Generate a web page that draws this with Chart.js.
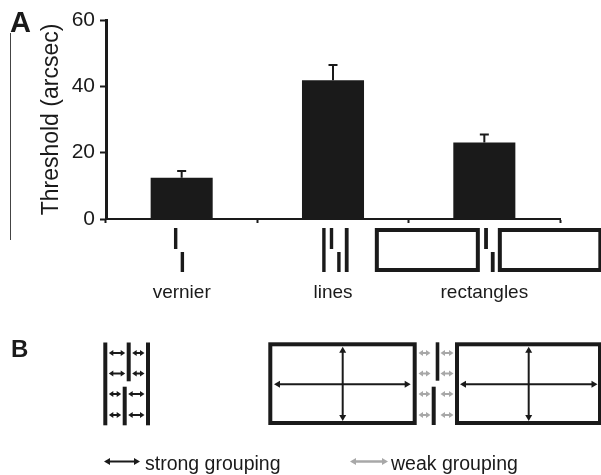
<!DOCTYPE html>
<html lang="en">
  <head>
    <meta charset="UTF-8" />
    <title>Threshold chart</title>
    <style>
      body {
        margin: 0;
        padding: 0;
        background: white;
      }
      .box {
        width: 601px;
        height: 475px;
        position: relative;
      }
    </style>
  </head>
  <body>
    <div class="box">
      <canvas id="thresholdChart"></canvas>
    </div>

    <script src="https://cdn.jsdelivr.net/npm/chart.js"></script>
    <script>
      const categories = ["vernier", "lines", "rectangles"];
      const thresholds = [12.4, 41.8, 23.1];
      const errors = [2.1, 4.6, 2.4];
      const yTicks = [0, 20, 40, 60];

      const ink = "#1a1a1a";
      const grey = "#a8a8a8";
      const font = "'Liberation Sans', Arial, sans-serif";

      function arrow(ctx, x1, x2, y, color, lw, head, half) {
        ctx.strokeStyle = color;
        ctx.fillStyle = color;
        ctx.lineWidth = lw;
        ctx.beginPath();
        ctx.moveTo(x1 + head - 1, y);
        ctx.lineTo(x2 - head + 1, y);
        ctx.stroke();
        ctx.beginPath();
        ctx.moveTo(x1, y);
        ctx.lineTo(x1 + head, y - half);
        ctx.lineTo(x1 + head, y + half);
        ctx.closePath();
        ctx.fill();
        ctx.beginPath();
        ctx.moveTo(x2, y);
        ctx.lineTo(x2 - head, y - half);
        ctx.lineTo(x2 - head, y + half);
        ctx.closePath();
        ctx.fill();
      }

      function vArrow(ctx, x, y1, y2, color, lw, head, half) {
        ctx.strokeStyle = color;
        ctx.fillStyle = color;
        ctx.lineWidth = lw;
        ctx.beginPath();
        ctx.moveTo(x, y1 + head - 1);
        ctx.lineTo(x, y2 - head + 1);
        ctx.stroke();
        ctx.beginPath();
        ctx.moveTo(x, y1);
        ctx.lineTo(x - half, y1 + head);
        ctx.lineTo(x + half, y1 + head);
        ctx.closePath();
        ctx.fill();
        ctx.beginPath();
        ctx.moveTo(x, y2);
        ctx.lineTo(x - half, y2 - head);
        ctx.lineTo(x + half, y2 - head);
        ctx.closePath();
        ctx.fill();
      }

      function seg(ctx, x, y0, y1, w) {
        ctx.fillStyle = ink;
        ctx.fillRect(x, y0, w || 3.4, y1 - y0);
      }

      function box(ctx, x0, y0, x1, y1) {
        ctx.strokeStyle = ink;
        ctx.lineWidth = 4;
        ctx.strokeRect(x0 + 2, y0 + 2, x1 - x0 - 4, y1 - y0 - 4);
      }

      // error bars on top of the bars
      const errorBars = {
        id: "errorBars",
        afterDatasetsDraw(chart) {
          const ctx = chart.ctx;
          const y = chart.scales.y;
          const meta = chart.getDatasetMeta(0);
          ctx.save();
          ctx.strokeStyle = ink;
          ctx.lineWidth = 2;
          meta.data.forEach((bar, i) => {
            const top = y.getPixelForValue(thresholds[i] + errors[i]);
            ctx.beginPath();
            ctx.moveTo(bar.x, bar.y);
            ctx.lineTo(bar.x, top);
            ctx.moveTo(bar.x - 4.5, top);
            ctx.lineTo(bar.x + 4.5, top);
            ctx.stroke();
          });
          ctx.restore();
        },
      };

      // stimulus pictures, panel letters, panel B and its key
      const figureParts = {
        id: "figureParts",
        afterDraw(chart) {
          const ctx = chart.ctx;
          const x = chart.scales.x;
          ctx.save();

          // thin frame line on the left
          ctx.strokeStyle = "#444";
          ctx.lineWidth = 1;
          ctx.beginPath();
          ctx.moveTo(10.5, 33);
          ctx.lineTo(10.5, 240);
          ctx.stroke();

          ctx.fillStyle = ink;
          ctx.textBaseline = "alphabetic";
          ctx.font = "bold 29px " + font;
          ctx.fillText("A", 10, 32);
          ctx.font = "bold 24px " + font;
          ctx.fillText("B", 11, 357);

          // stimuli under the axis
          const t = 228, m1 = 249, m2 = 252, b = 272;
          let c = x.getPixelForValue(0);
          seg(ctx, c - 7.7, t, m1);
          seg(ctx, c - 1, m2, b);

          c = x.getPixelForValue(1);
          seg(ctx, c - 10.8, t, b);
          seg(ctx, c - 3.2, t, m1);
          seg(ctx, c + 4.2, m2, b);
          seg(ctx, c + 11.8, t, b, 3.8);

          c = x.getPixelForValue(2);
          box(ctx, c - 109.5, t, c - 4.5, b);
          seg(ctx, c - 0.2, t, m1, 3.8);
          seg(ctx, c + 6.5, m2, b, 3.8);
          box(ctx, c + 13.5, t, c + 118, b);

          // panel B: lines
          const rows = [353, 373.5, 394, 415];
          seg(ctx, 103.3, 342.5, 425.3, 4);
          seg(ctx, 126.7, 342.5, 381.3, 4);
          seg(ctx, 122.7, 386.7, 425.3, 4);
          seg(ctx, 146, 342.5, 425.3, 4);
          rows.forEach((ry, i) => {
            const mid = i < 2 ? 126.7 : 122.7;
            arrow(ctx, 108.8, mid - 1.5, ry, ink, 2, 4.5, 3);
            arrow(ctx, mid + 5.5, 144.5, ry, ink, 2, 4.5, 3);
          });

          // panel B: rectangles with vernier between
          box(ctx, 268.3, 342.3, 416.7, 425);
          arrow(ctx, 274, 410.7, 384.3, ink, 2, 6, 3.5);
          vArrow(ctx, 342.7, 346.7, 421, ink, 2, 6, 3.5);

          seg(ctx, 435.7, 342.3, 380.7, 3.6);
          seg(ctx, 431.7, 386.7, 425, 4);
          rows.forEach((ry) => {
            arrow(ctx, 418.5, 430.5, ry, grey, 2, 4.5, 3);
            arrow(ctx, 440.5, 453.5, ry, grey, 2, 4.5, 3);
          });

          box(ctx, 455, 342.3, 602, 425);
          arrow(ctx, 460, 597.5, 384.3, ink, 2, 6, 3.5);
          vArrow(ctx, 528.7, 346.7, 421, ink, 2, 6, 3.5);

          // key
          arrow(ctx, 104, 140, 461.5, ink, 2, 6, 3.5);
          arrow(ctx, 350, 388, 461.5, grey, 2.5, 6, 3.5);
          ctx.fillStyle = ink;
          ctx.font = "19.5px " + font;
          ctx.fillText("strong grouping", 145, 469.5);
          ctx.fillText("weak grouping", 391, 469.5);

          ctx.restore();
        },
      };

      new Chart(document.getElementById("thresholdChart"), {
        type: "bar",
        data: {
          labels: categories,
          datasets: [
            {
              label: "Threshold",
              data: thresholds,
              backgroundColor: ink,
              borderWidth: 0,
              barPercentage: 0.41,
              categoryPercentage: 1,
            },
          ],
        },
        options: {
          responsive: true,
          maintainAspectRatio: false,
          animation: false,
          layout: {
            padding: { left: 0, top: 20, right: 41, bottom: 0 },
          },
          plugins: {
            legend: { display: false },
            tooltip: { enabled: false },
          },
          scales: {
            x: {
              grid: {
                drawOnChartArea: false,
                tickLength: 4,
                tickWidth: 2,
                tickColor: ink,
              },
              border: { color: ink, width: 2 },
              ticks: {
                color: ink,
                padding: 58,
                font: { family: font, size: 19 },
              },
              afterFit(scale) {
                scale.height = 256;
              },
            },
            y: {
              min: 0,
              max: 60,
              afterBuildTicks(scale) {
                scale.ticks = yTicks.map((v) => ({ value: v }));
              },
              grid: {
                drawOnChartArea: false,
                tickLength: 6,
                tickWidth: 2,
                tickColor: ink,
              },
              border: { color: ink, width: 3 },
              ticks: {
                color: ink,
                padding: 5,
                font: { family: font, size: 21 },
              },
              title: {
                display: true,
                text: "Threshold (arcsec)",
                color: ink,
                padding: { top: 38, bottom: 0 },
                font: { family: font, size: 23 },
              },
              afterFit(scale) {
                scale.width = 106;
              },
            },
          },
        },
        plugins: [errorBars, figureParts],
      });
    </script>
  </body>
</html>
